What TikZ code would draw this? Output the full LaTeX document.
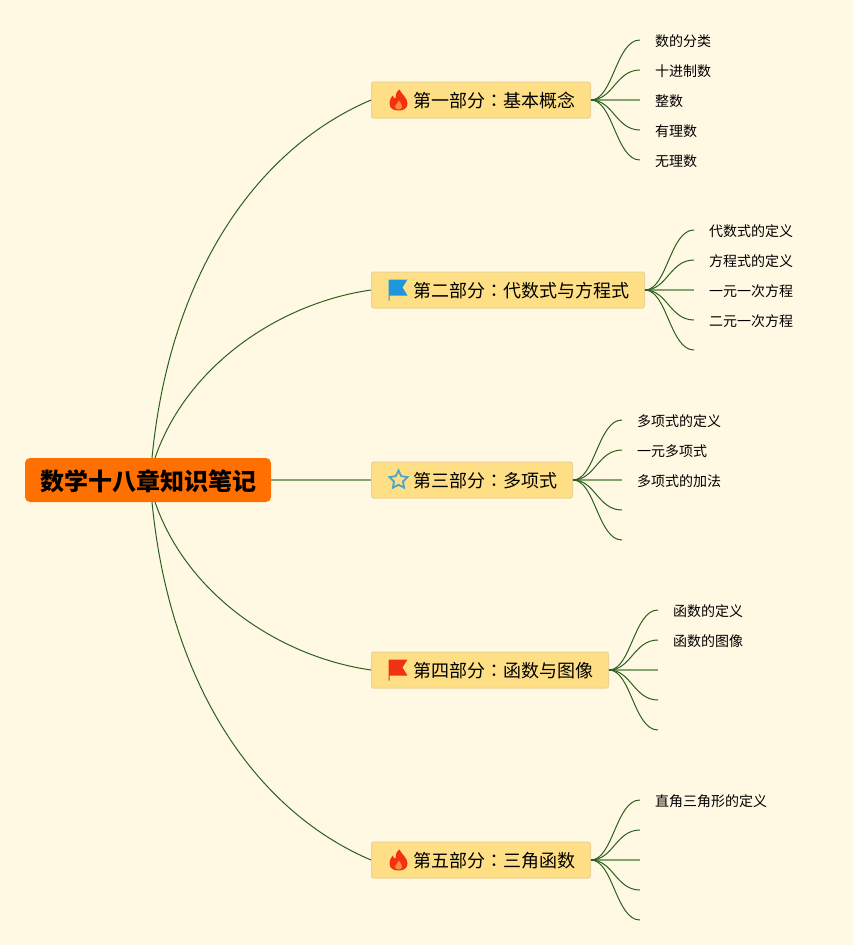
\documentclass[tikz,border=0pt]{standalone}
\usepackage{fontspec}
\setmainfont{Noto Sans CJK SC}
\newfontfamily\tcfont{Noto Sans CJK TC}
\usetikzlibrary{shapes.geometric,calc}
\definecolor{bgc}{HTML}{FFF8E3}
\definecolor{branchc}{HTML}{FFDF85}
\definecolor{branchb}{HTML}{EBD394}
\definecolor{rootc}{HTML}{FF7000}
\definecolor{linec}{HTML}{2A6020}
\definecolor{linel}{HTML}{86A56E}
\definecolor{flamer}{HTML}{F0320F}
\definecolor{flameo}{HTML}{FF8A3A}
\definecolor{flagb}{HTML}{1E96DC}
\definecolor{flagr}{HTML}{F03214}
\definecolor{starb}{HTML}{4AA5CC}
\tikzset{
  x=1pt,y=-1pt,
  rootbox/.style={draw=none,fill=rootc,rounded corners=5pt,minimum width=246pt,minimum height=44pt,inner sep=0pt,text height=22pt,text depth=2pt,font=\fontsize{24}{26}\selectfont\bfseries,text=black},
  branchbox/.style={draw=branchb,line width=1pt,fill=branchc,rounded corners=2pt,minimum height=36pt,inner sep=0pt,text height=17pt,text depth=2pt,anchor=west,font=\fontsize{18}{20}\selectfont,text=black,align=left},
  leaf/.style={inner xsep=15pt,inner ysep=0pt,text height=14pt,text depth=2pt,anchor=west,font=\fontsize{14}{16}\selectfont,text=black},
  conn/.style={draw=linec,line width=1pt},
  straightconn/.style={draw=linel,line width=2pt},
  stubconn/.style={draw=linec,line width=2pt},
}
\newcommand{\colonmark}{{\tcfont ：}}
\newcommand{\flameicon}[2]{%
  \begin{scope}[shift={(#1,#2)}]
    \fill[flamer] (1,-11) .. controls (3,-6) and (9,-3) .. (9,3) .. controls (9,8) and (5,10) .. (0,10) .. controls (-5,10) and (-9,8) .. (-9,3) .. controls (-9,-1) and (-7,-3) .. (-6,-5) .. controls (-5,-3) and (-4,-2) .. (-3,-2) .. controls (-3,-6) and (-2,-9) .. (1,-11) -- cycle;
    \fill[flameo] (0.5,0) .. controls (1.5,2) and (3.5,4) .. (3.5,6) .. controls (3.5,8) and (2,9) .. (0,9) .. controls (-2,9) and (-3.5,8) .. (-3.5,6) .. controls (-3.5,4) and (-0.5,3) .. (0.5,0) -- cycle;
  \end{scope}}
\newcommand{\flagicon}[3]{%
  \begin{scope}[shift={(#1,#2)}]
    \fill[#3] (-10,-10) -- (9,-10) -- (4,-2) -- (9,6) -- (-8.8,6) -- (-8.8,11) -- (-10,11) -- cycle;
  \end{scope}}
\begin{document}
\begin{tikzpicture}
\useasboundingbox (0,0) rectangle (853,945);
\fill[bgc] (0,0) rectangle (853,945);

% root and branches
\node[rootbox] (root) at (148,480) {数学十八章知识笔记};
\coordinate (rtop1) at (152,458);
\coordinate (rtop2) at (155,458);
\coordinate (rbot2) at (155,502);
\coordinate (rbot1) at (152,502);

\node[branchbox,minimum width=219pt,text width=219pt] (b1) at (371,100) {\hspace*{42pt}第一部分\colonmark 基本概念};
\node[branchbox,minimum width=273pt,text width=273pt] (b2) at (371,290) {\hspace*{42pt}第二部分\colonmark 代数式与方程式};
\node[branchbox,minimum width=201pt,text width=201pt] (b3) at (371,480) {\hspace*{42pt}第三部分\colonmark 多项式};
\node[branchbox,minimum width=237pt,text width=237pt] (b4) at (371,670) {\hspace*{42pt}第四部分\colonmark 函数与图像};
\node[branchbox,minimum width=219pt,text width=219pt] (b5) at (371,860) {\hspace*{42pt}第五部分\colonmark 三角函数};

% icons
\flameicon{398.5}{100.5}
\flagicon{398.5}{289.5}{flagb}
\node[star,star points=5,star point ratio=2.0,draw=starb,line width=1.8pt,fill=none,minimum size=19pt,inner sep=0pt] (staricon) at (398.5,480) {};
\flagicon{398.5}{669.5}{flagr}
\flameicon{398.5}{860.5}

% root connectors
\draw[conn] (rtop1) .. controls (170,272) and (258,148) .. (b1.west);
\draw[conn] (rtop2) .. controls (187,365) and (280,303) .. (b2.west);
\draw[straightconn] (root.east) -- (b3.west);
\draw[conn] (rbot2) .. controls (187,595) and (280,657) .. (b4.west);
\draw[conn] (rbot1) .. controls (170,688) and (258,812) .. (b5.west);

% leaves of b1
\node[leaf] (a1) at (640,40) {数的分类};
\node[leaf] (a2) at (640,70) {十进制数};
\node[leaf] (a3) at (640,100) {整数};
\node[leaf] (a4) at (640,130) {有理数};
\node[leaf] (a5) at (640,160) {无理数};
\draw[straightconn] (b1.east) -- (a3.west);
\foreach \n in {a1,a2,a4,a5}
  \draw[conn] (b1.east) .. controls +(22,0) and ($(\n.west)+(-24,0)$) .. (\n.west);
\draw[stubconn] (b1.east) -- +(6,0);

% leaves of b2
\node[leaf] (c1) at (694,230) {代数式的定义};
\node[leaf] (c2) at (694,260) {方程式的定义};
\node[leaf] (c3) at (694,290) {一元一次方程};
\node[leaf] (c4) at (694,320) {二元一次方程};
\coordinate (c5) at (694,350);
\draw[straightconn] (b2.east) -- (c3.west);
\foreach \n in {c1,c2,c4}
  \draw[conn] (b2.east) .. controls +(22,0) and ($(\n.west)+(-24,0)$) .. (\n.west);
\draw[conn] (b2.east) .. controls +(22,0) and (670,350) .. (c5);
\draw[stubconn] (b2.east) -- +(6,0);

% leaves of b3
\node[leaf] (d1) at (622,420) {多项式的定义};
\node[leaf] (d2) at (622,450) {一元多项式};
\node[leaf] (d3) at (622,480) {多项式的加法};
\coordinate (d4) at (622,510);
\coordinate (d5) at (622,540);
\draw[straightconn] (b3.east) -- (d3.west);
\foreach \n in {d1,d2}
  \draw[conn] (b3.east) .. controls +(22,0) and ($(\n.west)+(-24,0)$) .. (\n.west);
\draw[conn] (b3.east) .. controls +(22,0) and (598,510) .. (d4);
\draw[conn] (b3.east) .. controls +(22,0) and (598,540) .. (d5);
\draw[stubconn] (b3.east) -- +(6,0);

% leaves of b4
\node[leaf] (e1) at (658,610) {函数的定义};
\node[leaf] (e2) at (658,640) {函数的图像};
\coordinate (e3) at (658,670);
\coordinate (e4) at (658,700);
\coordinate (e5) at (658,730);
\draw[straightconn] (b4.east) -- (e3);
\foreach \n in {e1,e2}
  \draw[conn] (b4.east) .. controls +(22,0) and ($(\n.west)+(-24,0)$) .. (\n.west);
\draw[conn] (b4.east) .. controls +(22,0) and (634,700) .. (e4);
\draw[conn] (b4.east) .. controls +(22,0) and (634,730) .. (e5);
\draw[stubconn] (b4.east) -- +(6,0);

% leaves of b5
\node[leaf] (f1) at (640,800) {直角三角形的定义};
\coordinate (f2) at (640,830);
\coordinate (f3) at (640,860);
\coordinate (f4) at (640,890);
\coordinate (f5) at (640,920);
\draw[straightconn] (b5.east) -- (f3);
\draw[conn] (b5.east) .. controls +(22,0) and (616,800) .. (f1.west);
\draw[conn] (b5.east) .. controls +(22,0) and (616,830) .. (f2);
\draw[conn] (b5.east) .. controls +(22,0) and (616,890) .. (f4);
\draw[conn] (b5.east) .. controls +(22,0) and (616,920) .. (f5);
\draw[stubconn] (b5.east) -- +(6,0);
\end{tikzpicture}
\end{document}
